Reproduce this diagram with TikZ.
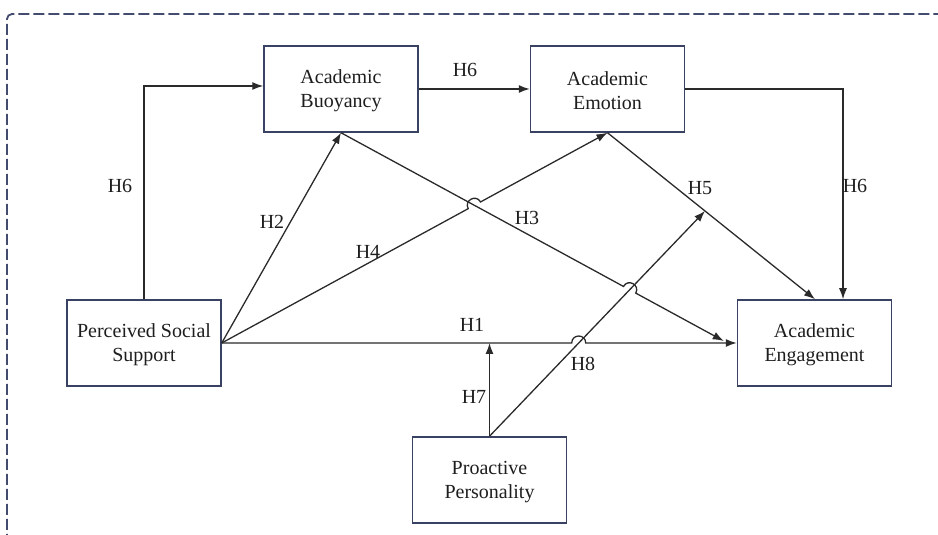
\documentclass[tikz,border=0pt]{standalone}
\usepackage{fontspec}
\setmainfont{Liberation Serif}
\usetikzlibrary{arrows.meta,calc,intersections}
\definecolor{framec}{HTML}{434B6E}
\definecolor{boxc}{HTML}{3A4263}
\definecolor{linec}{HTML}{2A2A2A}
\definecolor{txt}{HTML}{1E1E1E}
\begin{document}
\begin{tikzpicture}[x=1pt,y=1pt,
  box/.style={draw=boxc, line width=1.5pt, minimum width=154pt, minimum height=86pt, align=center, text=txt, font=\fontsize{20}{24}\selectfont, inner sep=0pt, text height=42pt},
  conn/.style={draw=linec, line width=1.3pt, -{Latex[length=11pt,width=8pt]}},
  lab/.style={text=txt, font=\fontsize{20}{24}\selectfont, inner sep=0pt},
  jump/.style={looseness=1.7}]
\useasboundingbox (0,0) rectangle (938,535);
\begin{scope}
\clip (0,0) rectangle (938,535);
\draw[framec, line width=1.8pt, dash pattern=on 11pt off 4pt, rounded corners=5pt] (7,-30) rectangle (970,521);
\end{scope}
% boxes
\node[box] (BUO) at (341,446) {Academic\\Buoyancy};
\node[box] (EMO) at (607.5,446) {Academic\\Emotion};
\node[box] (PSS) at (144,192) {Perceived Social\\Support};
\node[box] (ENG) at (814.5,192) {Academic\\Engagement};
\node[box] (PRO) at (489.5,55) {Proactive\\Personality};
% helper coordinates
\coordinate (h3end) at ([xshift=-13pt,yshift=2pt]ENG.west);
\coordinate (h5end) at ([xshift=0.5pt]ENG.north);
\coordinate (h8end) at ($(EMO.south)!0.47!(h5end)$);
\coordinate (h7end) at (PRO.north |- PSS.east);
\coordinate (h1end) at (PSS.east -| ENG.west);
\path[name path=p3] (BUO.south) -- (h3end);
\path[name path=p4] (PSS.east) -- (EMO.south);
\path[name path=p8] (PRO.north) -- (h8end);
\path[name path=p1] (PSS.east) -- (h1end);
\path[name intersections={of=p3 and p4, by=X34}];
\path[name intersections={of=p3 and p8, by=X38}];
\path[name intersections={of=p1 and p8, by=X18}];
% connectors
\draw[conn] (PSS.north) |- ([yshift=3pt]BUO.west);
\draw[conn] (BUO.east) -- (EMO.west);
\draw[conn] (EMO.east) -| ([xshift=28.5pt]ENG.north);
\draw[conn] (PSS.east) -- (BUO.south);
\draw[conn] (PSS.east) -- ($(X34)!7pt!(PSS.east)$) to[out=118.6,in=118.6,jump] ($(X34)!7pt!(EMO.south)$) -- (EMO.south);
\draw[conn] (BUO.south) -- ($(X38)!7pt!(BUO.south)$) to[out=61.4,in=61.4,jump] ($(X38)!7pt!(h3end)$) -- (h3end);
\draw[conn] (PSS.east) -- ($(X18)!7pt!(PSS.east)$) to[out=90,in=90,jump] ($(X18)!7pt!(h1end)$) -- (h1end);
\draw[conn] (EMO.south) -- (h5end);
\draw[conn] (PRO.north) -- (h7end);
\draw[conn] (PRO.north) -- (h8end);
% labels
\node[lab] (L6a) at (120,349) {H6};
\node[lab] (L6b) at (465,465) {H6};
\node[lab] (L6c) at (855,349) {H6};
\node[lab] (L2) at (272,313) {H2};
\node[lab] (L4) at (368,283) {H4};
\node[lab] (L3) at (527,317) {H3};
\node[lab] (L5) at (700,347) {H5};
\node[lab] (L1) at (472,210) {H1};
\node[lab] (L7) at (474,138) {H7};
\node[lab] (L8) at (583,171) {H8};
\end{tikzpicture}
\end{document}
